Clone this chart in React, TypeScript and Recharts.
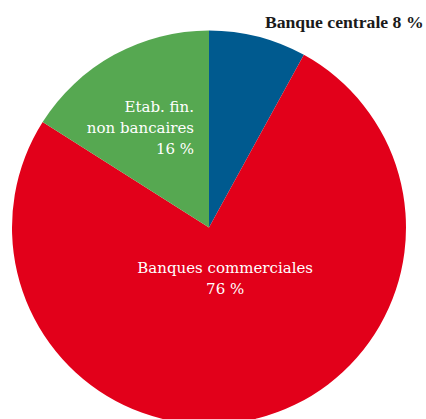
import { PieChart, Pie, Cell } from "recharts";

const categories = ["Banque centrale", "Banques commerciales", "Etab. fin. non bancaires"];
const shares = [8, 76, 16];
const colors = ["#005a8f", "#e2001a", "#56a851"];
const labelLines = [
  ["Banque centrale 8 %"],
  ["Banques commerciales", "76 %"],
  ["Etab. fin.", "non bancaires", "16 %"],
];

const data = categories.map((name, i) => ({ name, value: shares[i] }));

const FONT = "'DejaVu Serif', serif";

// where each label sits, relative to the slice
const labelPlace = [
  { r: 1.1, anchor: "start", fill: "#1a1a1a", weight: 700, dx: 2, dy: 4, font: "'Liberation Serif', serif", size: 17.7 },
  { r: 0.33, anchor: "middle", fill: "#fff", weight: 400, dx: 0, dy: -12, font: FONT, size: 15 },
  { r: 0.6, anchor: "end", fill: "#fff", weight: 400, dx: 42, dy: 4, font: FONT, size: 15 },
];

const renderLabel = (props: any) => {
  const { cx, cy, midAngle, outerRadius, index } = props;
  const p = labelPlace[index];
  const rad = (Math.PI / 180) * midAngle;
  const x = cx + outerRadius * p.r * Math.cos(rad) + p.dx;
  const y = cy - outerRadius * p.r * Math.sin(rad) + p.dy;
  const lines = labelLines[index];
  const lh = 21;
  const top = y - ((lines.length - 1) * lh) / 2;
  return (
    <text
      x={x}
      y={top}
      textAnchor={p.anchor}
      fill={p.fill}
      fontWeight={p.weight}
      fontFamily={p.font}
      fontSize={p.size}
      dominantBaseline="central"
    >
      {lines.map((l, i) => (
        <tspan key={i} x={x} y={top + i * lh}>
          {l}
        </tspan>
      ))}
    </text>
  );
};

export default function App() {
  return (
    <div style={{ position: "absolute", left: 0, top: 0, background: "#fff" }}>
      <PieChart width={426} height={419} margin={{ top: 0, right: 0, bottom: 0, left: 0 }}>
        <Pie
          data={data}
          dataKey="value"
          nameKey="name"
          cx={209}
          cy={227.5}
          outerRadius={197}
          startAngle={90}
          endAngle={-270}
          stroke="none"
          labelLine={false}
          label={renderLabel}
          isAnimationActive={false}
        >
          {data.map((d, i) => (
            <Cell key={d.name} fill={colors[i]} />
          ))}
        </Pie>
      </PieChart>
    </div>
  );
}
